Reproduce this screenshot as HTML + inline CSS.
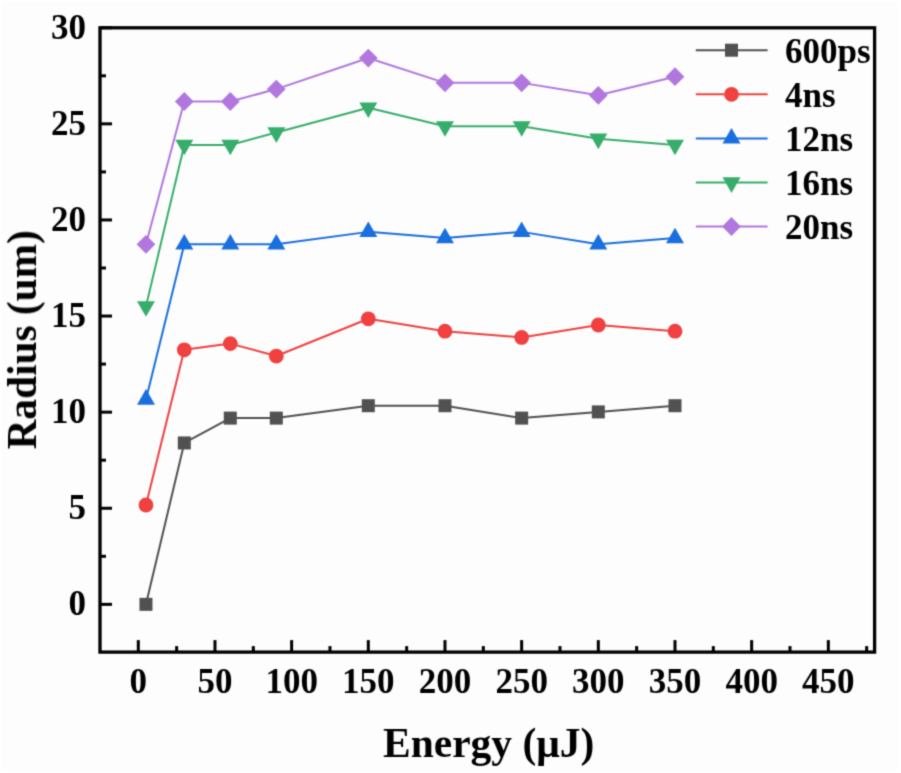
<!DOCTYPE html>
<html><head><meta charset="utf-8"><style>
html,body{margin:0;padding:0;background:#ffffff;}
svg{display:block;}
text{font-family:"Liberation Serif",serif;font-weight:bold;fill:#000;}
</style></head><body>
<svg width="901" height="773" viewBox="0 0 901 773">
<defs><filter id="soft" color-interpolation-filters="sRGB" filterUnits="userSpaceOnUse" x="0" y="0" width="901" height="773"><feConvolveMatrix order="3" kernelMatrix="1 4 1 4 16 4 1 4 1" edgeMode="duplicate"/></filter></defs>
<g filter="url(#soft)">
<rect x="0" y="0" width="901" height="773" fill="#ffffff"/><rect x="2" y="2" width="897" height="769" fill="#fdfdfd"/>
<polyline points="145.97,604.35 184.30,442.94 230.30,418.11 276.31,418.11 368.31,405.69 444.98,405.69 521.65,418.11 598.32,411.90 674.99,405.69" fill="none" stroke="#515151" stroke-width="2.0" stroke-linejoin="round"/>
<polyline points="145.97,505.02 184.30,349.82 230.30,343.61 276.31,356.03 368.31,318.78 444.98,331.20 521.65,337.40 598.32,324.99 674.99,331.20" fill="none" stroke="#F14040" stroke-width="2.0" stroke-linejoin="round"/>
<polyline points="145.97,399.48 184.30,244.28 230.30,244.28 276.31,244.28 368.31,231.87 444.98,238.07 521.65,231.87 598.32,244.28 674.99,238.07" fill="none" stroke="#1A6FDF" stroke-width="2.0" stroke-linejoin="round"/>
<polyline points="145.97,306.36 184.30,144.95 230.30,144.95 276.31,132.54 368.31,107.71 444.98,126.33 521.65,126.33 598.32,138.75 674.99,144.95" fill="none" stroke="#37AD6B" stroke-width="2.0" stroke-linejoin="round"/>
<polyline points="145.97,244.28 184.30,101.50 230.30,101.50 276.31,89.08 368.31,58.04 444.98,82.87 521.65,82.87 598.32,95.29 674.99,76.66" fill="none" stroke="#B177DE" stroke-width="2.0" stroke-linejoin="round"/>
<rect x="139.47" y="597.85" width="13.0" height="13.0" fill="#515151"/>
<rect x="177.80" y="436.44" width="13.0" height="13.0" fill="#515151"/>
<rect x="223.80" y="411.61" width="13.0" height="13.0" fill="#515151"/>
<rect x="269.81" y="411.61" width="13.0" height="13.0" fill="#515151"/>
<rect x="361.81" y="399.19" width="13.0" height="13.0" fill="#515151"/>
<rect x="438.48" y="399.19" width="13.0" height="13.0" fill="#515151"/>
<rect x="515.15" y="411.61" width="13.0" height="13.0" fill="#515151"/>
<rect x="591.82" y="405.40" width="13.0" height="13.0" fill="#515151"/>
<rect x="668.49" y="399.19" width="13.0" height="13.0" fill="#515151"/>
<circle cx="145.97" cy="505.02" r="7.4" fill="#F14040"/>
<circle cx="184.30" cy="349.82" r="7.4" fill="#F14040"/>
<circle cx="230.30" cy="343.61" r="7.4" fill="#F14040"/>
<circle cx="276.31" cy="356.03" r="7.4" fill="#F14040"/>
<circle cx="368.31" cy="318.78" r="7.4" fill="#F14040"/>
<circle cx="444.98" cy="331.20" r="7.4" fill="#F14040"/>
<circle cx="521.65" cy="337.40" r="7.4" fill="#F14040"/>
<circle cx="598.32" cy="324.99" r="7.4" fill="#F14040"/>
<circle cx="674.99" cy="331.20" r="7.4" fill="#F14040"/>
<polygon points="145.97,389.09 136.97,404.68 154.97,404.68" fill="#1A6FDF"/>
<polygon points="184.30,233.89 175.30,249.48 193.30,249.48" fill="#1A6FDF"/>
<polygon points="230.30,233.89 221.30,249.48 239.30,249.48" fill="#1A6FDF"/>
<polygon points="276.31,233.89 267.31,249.48 285.31,249.48" fill="#1A6FDF"/>
<polygon points="368.31,221.47 359.31,237.06 377.31,237.06" fill="#1A6FDF"/>
<polygon points="444.98,227.68 435.98,243.27 453.98,243.27" fill="#1A6FDF"/>
<polygon points="521.65,221.47 512.65,237.06 530.65,237.06" fill="#1A6FDF"/>
<polygon points="598.32,233.89 589.32,249.48 607.32,249.48" fill="#1A6FDF"/>
<polygon points="674.99,227.68 665.99,243.27 683.99,243.27" fill="#1A6FDF"/>
<polygon points="145.97,316.76 136.97,301.17 154.97,301.17" fill="#37AD6B"/>
<polygon points="184.30,155.35 175.30,139.76 193.30,139.76" fill="#37AD6B"/>
<polygon points="230.30,155.35 221.30,139.76 239.30,139.76" fill="#37AD6B"/>
<polygon points="276.31,142.93 267.31,127.34 285.31,127.34" fill="#37AD6B"/>
<polygon points="368.31,118.10 359.31,102.51 377.31,102.51" fill="#37AD6B"/>
<polygon points="444.98,136.72 435.98,121.13 453.98,121.13" fill="#37AD6B"/>
<polygon points="521.65,136.72 512.65,121.13 530.65,121.13" fill="#37AD6B"/>
<polygon points="598.32,149.14 589.32,133.55 607.32,133.55" fill="#37AD6B"/>
<polygon points="674.99,155.35 665.99,139.76 683.99,139.76" fill="#37AD6B"/>
<polygon points="145.97,234.88 155.37,244.28 145.97,253.68 136.57,244.28" fill="#B177DE"/>
<polygon points="184.30,92.10 193.70,101.50 184.30,110.90 174.90,101.50" fill="#B177DE"/>
<polygon points="230.30,92.10 239.70,101.50 230.30,110.90 220.90,101.50" fill="#B177DE"/>
<polygon points="276.31,79.68 285.71,89.08 276.31,98.48 266.91,89.08" fill="#B177DE"/>
<polygon points="368.31,48.64 377.71,58.04 368.31,67.44 358.91,58.04" fill="#B177DE"/>
<polygon points="444.98,73.47 454.38,82.87 444.98,92.27 435.58,82.87" fill="#B177DE"/>
<polygon points="521.65,73.47 531.05,82.87 521.65,92.27 512.25,82.87" fill="#B177DE"/>
<polygon points="598.32,85.89 607.72,95.29 598.32,104.69 588.92,95.29" fill="#B177DE"/>
<polygon points="674.99,67.26 684.39,76.66 674.99,86.06 665.59,76.66" fill="#B177DE"/>
<g stroke="#000" stroke-width="3" stroke-linecap="butt">
<line x1="138.30" y1="652.10" x2="138.30" y2="640.10"/>
<line x1="214.97" y1="652.10" x2="214.97" y2="640.10"/>
<line x1="291.64" y1="652.10" x2="291.64" y2="640.10"/>
<line x1="368.31" y1="652.10" x2="368.31" y2="640.10"/>
<line x1="444.98" y1="652.10" x2="444.98" y2="640.10"/>
<line x1="521.65" y1="652.10" x2="521.65" y2="640.10"/>
<line x1="598.32" y1="652.10" x2="598.32" y2="640.10"/>
<line x1="674.99" y1="652.10" x2="674.99" y2="640.10"/>
<line x1="751.66" y1="652.10" x2="751.66" y2="640.10"/>
<line x1="828.33" y1="652.10" x2="828.33" y2="640.10"/>
<line x1="176.64" y1="652.10" x2="176.64" y2="646.10"/>
<line x1="253.31" y1="652.10" x2="253.31" y2="646.10"/>
<line x1="329.98" y1="652.10" x2="329.98" y2="646.10"/>
<line x1="406.65" y1="652.10" x2="406.65" y2="646.10"/>
<line x1="483.32" y1="652.10" x2="483.32" y2="646.10"/>
<line x1="559.99" y1="652.10" x2="559.99" y2="646.10"/>
<line x1="636.65" y1="652.10" x2="636.65" y2="646.10"/>
<line x1="713.33" y1="652.10" x2="713.33" y2="646.10"/>
<line x1="790.00" y1="652.10" x2="790.00" y2="646.10"/>
<line x1="866.66" y1="652.10" x2="866.66" y2="646.10"/>
<line x1="100.00" y1="604.35" x2="112.00" y2="604.35"/>
<line x1="100.00" y1="508.25" x2="112.00" y2="508.25"/>
<line x1="100.00" y1="412.15" x2="112.00" y2="412.15"/>
<line x1="100.00" y1="316.05" x2="112.00" y2="316.05"/>
<line x1="100.00" y1="219.95" x2="112.00" y2="219.95"/>
<line x1="100.00" y1="123.85" x2="112.00" y2="123.85"/>
<line x1="100.00" y1="27.75" x2="112.00" y2="27.75"/>
<line x1="100.00" y1="556.30" x2="106.00" y2="556.30"/>
<line x1="100.00" y1="460.20" x2="106.00" y2="460.20"/>
<line x1="100.00" y1="364.10" x2="106.00" y2="364.10"/>
<line x1="100.00" y1="268.00" x2="106.00" y2="268.00"/>
<line x1="100.00" y1="171.90" x2="106.00" y2="171.90"/>
<line x1="100.00" y1="75.80" x2="106.00" y2="75.80"/>
</g>
<rect x="100.00" y="27.80" width="774.60" height="624.30" fill="none" stroke="#000" stroke-width="3.3"/>
<g font-size="35">
<text x="138.30" y="693.0" text-anchor="middle">0</text>
<text x="214.97" y="693.0" text-anchor="middle">50</text>
<text x="291.64" y="693.0" text-anchor="middle">100</text>
<text x="368.31" y="693.0" text-anchor="middle">150</text>
<text x="444.98" y="693.0" text-anchor="middle">200</text>
<text x="521.65" y="693.0" text-anchor="middle">250</text>
<text x="598.32" y="693.0" text-anchor="middle">300</text>
<text x="674.99" y="693.0" text-anchor="middle">350</text>
<text x="751.66" y="693.0" text-anchor="middle">400</text>
<text x="828.33" y="693.0" text-anchor="middle">450</text>
<text x="86" y="615.35" text-anchor="end">0</text>
<text x="86" y="519.25" text-anchor="end">5</text>
<text x="86" y="423.15" text-anchor="end">10</text>
<text x="86" y="327.05" text-anchor="end">15</text>
<text x="86" y="230.95" text-anchor="end">20</text>
<text x="86" y="134.85" text-anchor="end">25</text>
<text x="86" y="38.75" text-anchor="end">30</text>
<line x1="695.8" y1="50.2" x2="767.6" y2="50.2" stroke="#515151" stroke-width="2.0"/>
<rect x="725.00" y="43.70" width="13.0" height="13.0" fill="#515151"/>
<text x="785" y="62.80">600ps</text>
<line x1="695.8" y1="94.3" x2="767.6" y2="94.3" stroke="#F14040" stroke-width="2.0"/>
<circle cx="731.50" cy="94.30" r="7.4" fill="#F14040"/>
<text x="785" y="106.90">4ns</text>
<line x1="695.8" y1="138.4" x2="767.6" y2="138.4" stroke="#1A6FDF" stroke-width="2.0"/>
<polygon points="731.50,128.01 722.50,143.60 740.50,143.60" fill="#1A6FDF"/>
<text x="785" y="151.00">12ns</text>
<line x1="695.8" y1="182.5" x2="767.6" y2="182.5" stroke="#37AD6B" stroke-width="2.0"/>
<polygon points="731.50,192.89 722.50,177.30 740.50,177.30" fill="#37AD6B"/>
<text x="785" y="195.10">16ns</text>
<line x1="695.8" y1="226.5" x2="767.6" y2="226.5" stroke="#B177DE" stroke-width="2.0"/>
<polygon points="731.50,217.10 740.90,226.50 731.50,235.90 722.10,226.50" fill="#B177DE"/>
<text x="785" y="239.10">20ns</text>
</g>
<text x="383" y="757" font-size="41.5">Energy (μJ)</text>
<text transform="translate(36,449.4) rotate(-90)" font-size="41.3">Radius (um)</text>
</g>
</svg>
</body></html>
